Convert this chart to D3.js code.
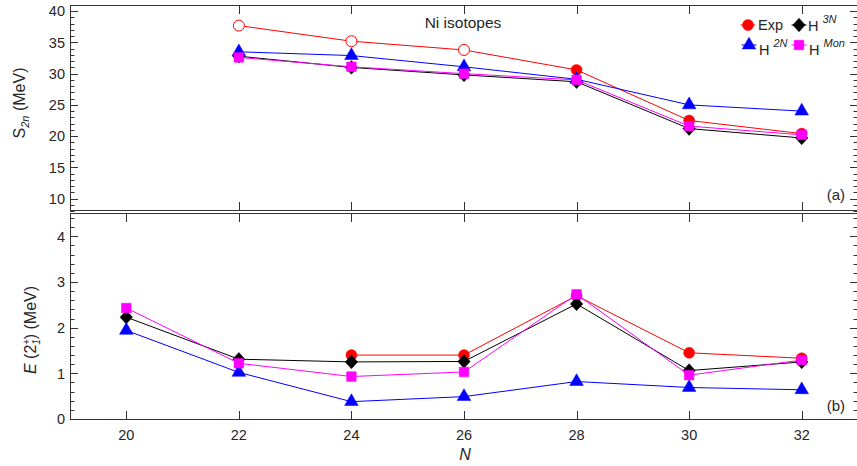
<!DOCTYPE html>
<html>
<head>
<meta charset="utf-8">
<script src="https://cdn.jsdelivr.net/npm/d3@7/dist/d3.min.js"></script>
<style>
  html, body { margin: 0; padding: 0; background: #fff; }
  svg { display: block; font-family: "Liberation Sans", Arial, Helvetica, sans-serif; }
  text { fill: #262626; }
</style>
</head>
<body>
<svg id="chart" width="857" height="466"></svg>
<script>
// Neutron numbers of the Ni isotopes
const neutrons = [20, 22, 24, 26, 28, 30, 32];

// Two-neutron separation energies S2n (MeV); null = no value
const s2nExp  = [null, 37.7, 35.2, 33.8, 30.6, 22.5, 20.4];
const s2nExpOpen = [false, true, true, true, false, false, false]; // open symbols
const s2nH2N  = [null, 33.5, 32.9, 31.1, 29.1, 25.0, 24.0];
const s2nH3N  = [null, 32.8, 31.0, 29.8, 28.7, 21.2, 19.7];
const s2nHMon = [null, 32.6, 31.1, 30.0, 29.0, 21.6, 20.2];

// First 2+ excitation energies E(2+_1) (MeV)
const e2Exp  = [null, null, 1.40, 1.40, 2.70, 1.45, 1.33];
const e2H2N  = [1.94, 1.02, 0.38, 0.49, 0.82, 0.69, 0.64];
const e2H3N  = [2.23, 1.31, 1.25, 1.26, 2.52, 1.06, 1.25];
const e2HMon = [2.43, 1.22, 0.93, 1.03, 2.73, 0.96, 1.29];

// Axis ticks
const topXTicks = [22, 24, 26, 28, 30, 32];
const botXTicks = [20, 22, 24, 26, 28, 30, 32];
const topYTicks = [10, 15, 20, 25, 30, 35, 40];
const botYTicks = [0, 1, 2, 3, 4];

const svg = d3.select("#chart");
const axisColor = "#333";

const left = 70, right = 858;
const x = d3.scaleLinear().domain([19, 33]).range([left, right]);
const yTop = d3.scaleLinear().domain([8, 41]).range([211, 5]);
const yBot = d3.scaleLinear().domain([0, 4.5]).range([419, 213.5]);

// Marker shapes
const diamond = {
  draw(ctx, size) {
    const w = 6.2, h = 6.8;
    ctx.moveTo(0, -h); ctx.lineTo(w, 0); ctx.lineTo(0, h); ctx.lineTo(-w, 0); ctx.closePath();
  }
};
const styles = {
  exp:  { color: "#ff0000", type: d3.symbolCircle,   size: 95 },
  h3n:  { color: "#000000", type: diamond,           size: 1 },
  h2n:  { color: "#0000ff", type: d3.symbolTriangle, size: 80 },
  hmon: { color: "#ff00ff", type: d3.symbolSquare,   size: 92 }
};

function drawFrame(y, xTicks, yMinorStep, yMajor, bottomLine, topLine) {
  const g = svg.append("g");
  const [y0, y1] = y.range();
  // frame
  g.append("line").attr("x1", left).attr("x2", right).attr("y1", topLine).attr("y2", topLine)
    .attr("stroke", axisColor).attr("stroke-width", 1);
  g.append("line").attr("x1", left).attr("x2", right).attr("y1", bottomLine).attr("y2", bottomLine)
    .attr("stroke", axisColor).attr("stroke-width", 1);
  g.append("line").attr("x1", left + 0.5).attr("x2", left + 0.5).attr("y1", y1).attr("y2", y0)
    .attr("stroke", axisColor).attr("stroke-width", 1);
  // x ticks (inward, top and bottom)
  xTicks.forEach(n => {
    const px = Math.round(x(n)) + 0.5;
    g.append("line").attr("x1", px).attr("x2", px).attr("y1", bottomLine).attr("y2", bottomLine - 8.5)
      .attr("stroke", axisColor);
    g.append("line").attr("x1", px).attr("x2", px).attr("y1", topLine).attr("y2", topLine + 8.5)
      .attr("stroke", axisColor);
  });
  // y ticks: minor and major, both sides
  const [d0, d1] = y.domain();
  const minor = d3.range(Math.ceil(d0 / yMinorStep) * yMinorStep, d1 + 1e-9, yMinorStep)
    .map(v => +v.toFixed(3));
  minor.forEach(v => {
    const isMajor = yMajor.some(m => Math.abs(m - v) < 1e-6);
    const len = isMajor ? 8 : 4.5;
    const py = Math.round(y(v)) + 0.5;
    g.append("line").attr("x1", left).attr("x2", left + len).attr("y1", py).attr("y2", py)
      .attr("stroke", axisColor);
    g.append("line").attr("x1", right).attr("x2", right - len).attr("y1", py).attr("y2", py)
      .attr("stroke", axisColor);
  });
  yMajor.forEach(v => {
    g.append("text").attr("x", 65).attr("y", y(v)).attr("dy", "0.36em")
      .attr("text-anchor", "end").attr("font-size", 14.5).text(v);
  });
}

drawFrame(yTop, topXTicks, 1, topYTicks, 210.5, 5.5);
drawFrame(yBot, botXTicks, 0.2, botYTicks, 419.5, 213.5);

// x tick labels
botXTicks.forEach(n => {
  svg.append("text").attr("x", x(n)).attr("y", 440).attr("text-anchor", "middle")
    .attr("font-size", 14.5).text(n);
});

function drawSeries(y, values, key, openFlags) {
  const st = styles[key];
  const pts = neutrons.map((n, i) => ({ n, v: values[i], open: openFlags ? openFlags[i] : false }))
    .filter(d => d.v !== null);
  const line = d3.line().x(d => x(d.n)).y(d => y(d.v));
  svg.append("path").attr("d", line(pts)).attr("fill", "none")
    .attr("stroke", st.color).attr("stroke-width", 1);
  const sym = d3.symbol().type(st.type).size(st.size);
  svg.append("g").selectAll("path").data(pts).join("path")
    .attr("transform", d => `translate(${x(d.n)},${y(d.v)})`)
    .attr("d", sym)
    .attr("fill", d => d.open ? "#fff" : st.color)
    .attr("stroke", st.color)
    .attr("stroke-width", d => d.open ? 1 : 0.5);
}

// panel (a)
drawSeries(yTop, s2nExp, "exp", s2nExpOpen);
drawSeries(yTop, s2nH3N, "h3n");
drawSeries(yTop, s2nH2N, "h2n");
drawSeries(yTop, s2nHMon, "hmon");
// panel (b)
drawSeries(yBot, e2Exp, "exp");
drawSeries(yBot, e2H3N, "h3n");
drawSeries(yBot, e2H2N, "h2n");
drawSeries(yBot, e2HMon, "hmon");

// annotations
svg.append("text").attr("x", 463).attr("y", 28).attr("text-anchor", "middle")
  .attr("font-size", 15.5).text("Ni isotopes");
svg.append("text").attr("x", 845).attr("y", 200).attr("text-anchor", "end")
  .attr("font-size", 15).text("(a)");
svg.append("text").attr("x", 845).attr("y", 411).attr("text-anchor", "end")
  .attr("font-size", 15).text("(b)");

// axis titles
svg.append("text").attr("x", 465).attr("y", 460).attr("text-anchor", "middle")
  .attr("font-size", 16).attr("font-style", "italic").text("N");

const yl1 = svg.append("text").attr("transform", "translate(25,103) rotate(-90)")
  .attr("text-anchor", "middle").attr("font-size", 16);
yl1.append("tspan").text("S");
yl1.append("tspan").attr("font-size", 11).attr("font-style", "italic").attr("dy", 4).text("2n");
yl1.append("tspan").attr("dy", -4).text(" (MeV)");

const yl2 = svg.append("text").attr("transform", "translate(36,330) rotate(-90)")
  .attr("text-anchor", "middle").attr("font-size", 16);
yl2.append("tspan").attr("font-style", "italic").text("E");
yl2.append("tspan").text(" (2");
yl2.append("tspan").attr("font-size", 10).attr("dy", -6).text("+");
yl2.append("tspan").attr("font-size", 10).attr("font-style", "italic").attr("dy", 10).attr("dx", -6).text("1");
yl2.append("tspan").attr("dy", -4).text(") (MeV)");

// legend
const legendItems = [
  { key: "exp",  mx: 748, my: 25, label: [["Exp", null]], tx: 758, ty: 30 },
  { key: "h3n",  mx: 799, my: 25, label: [["H", null], ["3N", "sup"]], tx: 808, ty: 31 },
  { key: "h2n",  mx: 749, my: 45, label: [["H", null], ["2N", "sup"]], tx: 759, ty: 55 },
  { key: "hmon", mx: 799, my: 45, label: [["H", null], ["Mon", "sup"]], tx: 809, ty: 55 }
];
const lg = svg.append("g");
legendItems.forEach(it => {
  const st = styles[it.key];
  lg.append("line").attr("x1", it.mx - 7.5).attr("x2", it.mx + 7.5)
    .attr("y1", it.my).attr("y2", it.my).attr("stroke", st.color).attr("stroke-width", 1);
  lg.append("path").attr("transform", `translate(${it.mx},${it.my})`)
    .attr("d", d3.symbol().type(st.type).size(st.size)())
    .attr("fill", st.color).attr("stroke", st.color).attr("stroke-width", 0.5);
  const t = lg.append("text").attr("x", it.tx).attr("y", it.ty).attr("font-size", 14.5);
  it.label.forEach(([s, kind]) => {
    if (kind === "sup") {
      t.append("tspan").attr("font-size", 11).attr("font-style", "italic")
        .attr("dx", 4).attr("dy", -8).text(s);
    } else {
      t.append("tspan").text(s);
    }
  });
});
</script>
</body>
</html>
